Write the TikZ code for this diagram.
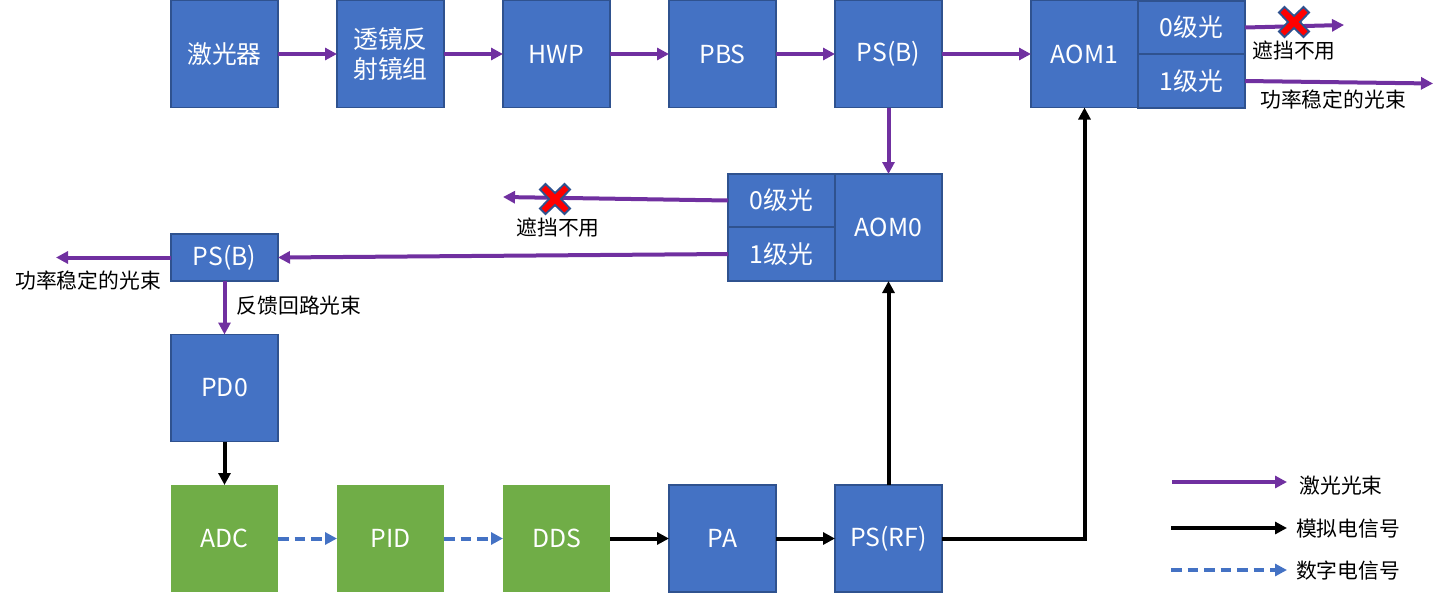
\documentclass[tikz,border=0pt]{standalone}
\usepackage{fontspec}
\setmainfont{Noto Sans CJK SC}
\usetikzlibrary{arrows.meta}
\definecolor{boxblue}{HTML}{4472C4}
\definecolor{boxedge}{HTML}{2F528F}
\definecolor{boxgreen}{HTML}{70AD47}
\definecolor{beam}{HTML}{7030A0}
\tikzset{
  block/.style={draw=boxedge,fill=boxblue,line width=1.4pt,text=white,align=center,outer sep=0pt,inner sep=0pt,
    minimum width=80.25pt,minimum height=80.25pt,font=\fontsize{18.6}{23}\selectfont},
  greenblock/.style={block,draw=none,fill=boxgreen},
  thinblock/.style={block,minimum height=35pt},
  order/.style={block,minimum height=40.1pt},
  note/.style={font=\fontsize{15.6}{18}\selectfont,inner sep=0pt},
  tip/.style={-{Triangle[length=9pt,width=9pt]}},
  light/.style={tip,draw=beam,line width=3pt},
  analog/.style={tip,draw=black,line width=3pt},
  digital/.style={tip,draw=boxblue,line width=3pt,dash pattern=on 8pt off 4.4pt},
  crossmark/.pic={
    \draw[fill=red,draw=boxedge,line width=1.4pt] (-15,-9.5) -- (-9.5,-15) -- (0,-6) -- (9.5,-15) -- (15,-9.5)
      -- (6,0) -- (15,9.5) -- (9.5,15) -- (0,6) -- (-9.5,15) -- (-15,9.5) -- (-6,0) -- cycle;
  }
}
\begin{document}
\begin{tikzpicture}[x=0.75pt,y=-0.75pt]
  \useasboundingbox (0,0) rectangle (1446,597);
  \node[block] (laser) at (224.5,54) {激光器};
  \node[block] (lens) at (390.5,54) {透镜反\\射镜组};
  \node[block] (hwp) at (556.5,54) {HWP};
  \node[block] (pbs) at (722.5,54) {PBS};
  \node[block] (psb1) at (888.5,54) {PS(B)};
  \node[block] (aom1) at (1084.5,54) {AOM1};
  \node[order] (a1zero) at (1191.5,27.5) {0级光};
  \node[order] (a1one) at (1191.5,81) {1级光};
  \node[block] (aom0) at (888.5,227.5) {AOM0};
  \node[order] (a0zero) at (781.5,200.5) {0级光};
  \node[order] (a0one) at (781.5,254) {1级光};
  \node[thinblock] (psb2) at (224.5,257.5) {PS(B)};
  \node[block] (pd0) at (224.5,388) {PD0};
  \node[greenblock] (adc) at (224.5,538.5) {ADC};
  \node[greenblock] (pid) at (390.5,538.5) {PID};
  \node[greenblock] (dds) at (556.5,538.5) {DDS};
  \node[block] (pa) at (722.5,538.5) {PA};
  \node[block] (psrf) at (888.5,538.5) {PS(RF)};

  \coordinate (a1zeroend) at (1344,25);
  \coordinate (a1oneend) at (1433,83.5);
  \coordinate (a0zeroend) at (503,197);
  \coordinate (psb2end) at (56,257.5);
  \coordinate (lg1a) at (1172,482);
  \coordinate (lg1b) at (1287,482);
  \coordinate (lg2a) at (1171,528);
  \coordinate (lg2b) at (1287,528);
  \coordinate (lg3a) at (1171,570);
  \coordinate (lg3b) at (1287,570);

  \draw[light] (laser) -- (lens);
  \draw[light] (lens) -- (hwp);
  \draw[light] (hwp) -- (pbs);
  \draw[light] (pbs) -- (psb1);
  \draw[light] (psb1) -- (aom1);
  \draw[light] (psb1) -- (aom0);
  \draw[light] (a1zero.east) -- (a1zeroend);
  \draw[light] (a1one.east) -- (a1oneend);
  \draw[light] (a0zero.west) -- (a0zeroend);
  \draw[light] (a0one.west) -- (psb2.east);
  \draw[light] (psb2.west) -- (psb2end);
  \draw[light] (psb2) -- (pd0);
  \draw[analog] (pd0) -- (adc);
  \draw[digital] (adc) -- (pid);
  \draw[digital] (pid) -- (dds);
  \draw[analog] (dds) -- (pa);
  \draw[analog] (pa) -- (psrf);
  \draw[analog] (psrf) -- (aom0);
  \draw[analog] (psrf.east) -| (aom1.south);
  \draw[light] (lg1a) -- (lg1b);
  \draw[analog] (lg2a) -- (lg2b);
  \draw[digital] (lg3a) -- (lg3b);

  \pic at (1294,22) {crossmark};
  \pic at (555,199) {crossmark};

  \node[note] (block1) at (1294,51) {遮挡不用};
  \node[note] (stable1) at (1333,100) {功率稳定的光束};
  \node[note] (block0) at (558,228) {遮挡不用};
  \node[note] (stable0) at (88,281) {功率稳定的光束};
  \node[note] (loop) at (299,306) {反馈回路光束};
  \node[note] (lg1) at (1341,486) {激光光束};
  \node[note] (lg2) at (1348,529) {模拟电信号};
  \node[note] (lg3) at (1348,571) {数字电信号};
\end{tikzpicture}
\end{document}
